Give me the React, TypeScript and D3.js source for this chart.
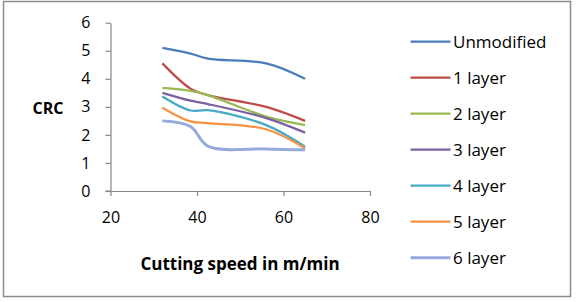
import React, { useEffect, useRef } from 'react';
import * as d3 from 'd3';

// Cutting speeds (m/min) shared by every series
const speeds = [32, 38.5, 42.5, 56, 65];

// CRC values per series
const seriesNames = ['Unmodified', '1 layer', '2 layer', '3 layer', '4 layer', '5 layer', '6 layer'];
const unmodified = [5.1, 4.9, 4.72, 4.55, 4.0];
const layer1 = [4.55, 3.65, 3.42, 3.0, 2.5];
const layer2 = [3.68, 3.57, 3.42, 2.65, 2.35];
const layer3 = [3.5, 3.22, 3.1, 2.6, 2.08];
const layer4 = [3.37, 2.87, 2.88, 2.35, 1.58];
const layer5 = [2.97, 2.48, 2.42, 2.2, 1.52];
const layer6 = [2.5, 2.3, 1.6, 1.5, 1.47];
const seriesValues = [unmodified, layer1, layer2, layer3, layer4, layer5, layer6];
const seriesColors = ['#4A7EBB', '#BE4B48', '#98B954', '#7D60A0', '#46AAC5', '#F69240', '#95AADB'];

const xTicks = [20, 40, 60, 80];
const yTicks = [0, 1, 2, 3, 4, 5, 6];

const App: React.FC = () => {
  const svgRef = useRef<SVGSVGElement | null>(null);

  useEffect(() => {
    const svg = d3.select(svgRef.current);
    svg.selectAll('*').remove();

    const font = '"Open Sans", "Liberation Sans", sans-serif';

    // outer chart border
    svg.append('rect')
      .attr('x', 3.5).attr('y', 1.5)
      .attr('width', 567).attr('height', 295)
      .attr('fill', '#fff')
      .attr('stroke', '#8c8c8c')
      .attr('stroke-width', 1.5);

    const x = d3.scaleLinear().domain([20, 80]).range([110.5, 370]);
    const y = d3.scaleLinear().domain([0, 6]).range([191, 22.7]);

    // y axis
    const yAxis = svg.append('g')
      .attr('transform', `translate(${x(20)},0)`)
      .call(d3.axisLeft(y).tickValues(yTicks).tickFormat(d3.format('d')).tickSize(5).tickSizeOuter(0).tickPadding(15));
    yAxis.selectAll('text').attr('font-family', font).attr('font-size', 16).attr('fill', '#000');

    // x axis
    const xAxis = svg.append('g')
      .attr('transform', `translate(0,${y(0)})`)
      .call(d3.axisBottom(x).tickValues(xTicks).tickFormat(d3.format('d')).tickSize(5).tickSizeOuter(0).tickPadding(16));
    xAxis.selectAll('text').attr('font-family', font).attr('font-size', 16).attr('fill', '#000');
    // extend the x axis line a little left so the 0 tick crosses it
    svg.append('line')
      .attr('x1', x(20) - 5).attr('x2', x(20))
      .attr('y1', y(0)).attr('y2', y(0))
      .attr('stroke', '#868686');

    svg.selectAll('.domain, .tick line').attr('stroke', '#868686').attr('stroke-width', 1.2);

    // axis titles
    svg.append('text')
      .attr('x', 48).attr('y', 108)
      .attr('text-anchor', 'middle').attr('dominant-baseline', 'central')
      .attr('font-family', font).attr('font-weight', 'bold').attr('font-size', 16)
      .text('CRC');
    svg.append('text')
      .attr('x', 240).attr('y', 263)
      .attr('text-anchor', 'middle').attr('dominant-baseline', 'central')
      .attr('font-family', font).attr('font-weight', 'bold').attr('font-size', 17)
      .text('Cutting speed in m/min');

    // smoothed series lines
    const line = d3.line<number>()
      .x((_, i) => x(speeds[i]))
      .y(d => y(d))
      .curve(d3.curveCatmullRom.alpha(0.5));

    seriesValues.forEach((vals, i) => {
      svg.append('path')
        .datum(vals)
        .attr('fill', 'none')
        .attr('stroke', seriesColors[i])
        .attr('stroke-width', i === 6 ? 3 : 2.25)
        .attr('stroke-linejoin', 'round')
        .attr('d', line);
    });

    // legend
    const legendY = d3.scalePoint<string>().domain(seriesNames).range([41.7, 257.7]);
    seriesNames.forEach((name, i) => {
      const ly = legendY(name) as number;
      svg.append('line')
        .attr('x1', 410.5).attr('x2', 450.5)
        .attr('y1', ly).attr('y2', ly)
        .attr('stroke', seriesColors[i])
        .attr('stroke-width', i === 6 ? 3 : 2.25);
      svg.append('text')
        .attr('x', 453).attr('y', ly)
        .attr('dominant-baseline', 'central')
        .attr('font-family', font).attr('font-size', 17)
        .attr('fill', '#000')
        .text(name);
    });
  }, []);

  return (
    <div style={{ position: 'absolute', left: 0, top: 0 }}>
      <svg ref={svgRef} width={577} height={302} style={{ display: 'block' }}></svg>
    </div>
  );
};

export default App;
